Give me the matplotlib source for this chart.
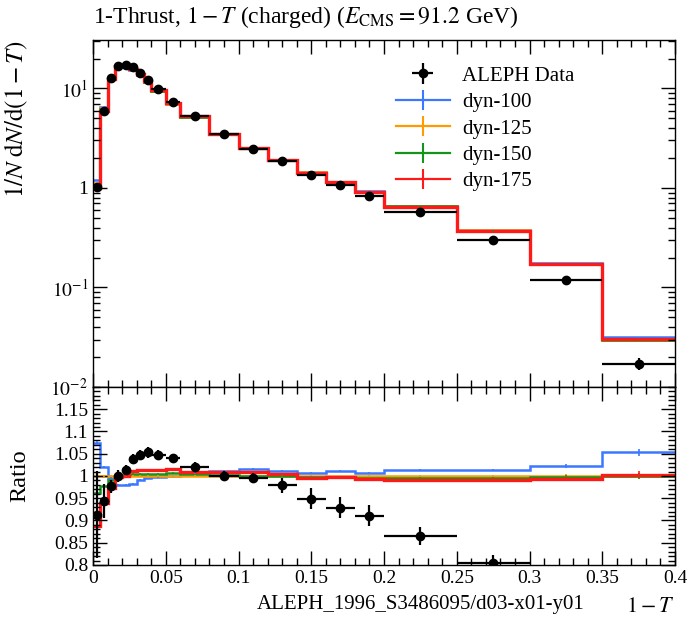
import numpy as np
import matplotlib
matplotlib.use("Agg")
import matplotlib.pyplot as plt
from matplotlib.lines import Line2D
from matplotlib.ticker import FixedLocator, MultipleLocator, LogLocator, FuncFormatter, NullFormatter

plt.rcParams['font.family'] = ['Liberation Serif', 'DejaVu Serif']
plt.rcParams['mathtext.fontset'] = 'stix'

# 1-T bins (ALEPH 1996, charged thrust at 91.2 GeV)
bin_edges = [0.0, 0.005, 0.01, 0.015, 0.02, 0.025, 0.03, 0.035, 0.04, 0.05, 0.06,
             0.08, 0.10, 0.12, 0.14, 0.16, 0.18, 0.20, 0.25, 0.30, 0.35, 0.40]

aleph_data = [1.02, 6.0, 12.6, 17.0, 17.3, 16.3, 14.3, 12.3, 9.9, 7.3, 5.3,
              3.45, 2.49, 1.86, 1.36, 1.06, 0.836, 0.567, 0.302, 0.12, 0.0171]
aleph_err = [0.11, 0.24, 0.19, 0.24, 0.20, 0.19, 0.16, 0.14, 0.095, 0.07, 0.057,
             0.035, 0.028, 0.032, 0.034, 0.027, 0.022, 0.013, 0.0068, 0.006, 0.0023]

dyn_100 = [1.199, 6.49, 12.84, 16.66, 16.72, 15.43, 13.54, 11.62, 9.42, 7.02, 5.22,
           3.49, 2.54, 1.92, 1.442, 1.154, 0.925, 0.664, 0.380, 0.177, 0.0316]
dyn_125 = [1.117, 6.36, 12.9, 17.0, 17.06, 15.7, 13.65, 11.68, 9.45, 7.02, 5.19,
           3.45, 2.50, 1.90, 1.433, 1.141, 0.918, 0.655, 0.375, 0.173, 0.0300]
dyn_150 = [1.075, 6.21, 12.78, 17.0, 17.11, 15.78, 13.72, 11.74, 9.50, 7.07, 5.21,
           3.46, 2.50, 1.90, 1.430, 1.139, 0.913, 0.652, 0.373, 0.1727, 0.0300]
dyn_175 = [0.991, 5.97, 12.54, 16.95, 17.06, 15.86, 13.84, 11.84, 9.58, 7.13, 5.24,
           3.48, 2.52, 1.91, 1.426, 1.138, 0.911, 0.649, 0.372, 0.172, 0.0301]
mc_stat_relerr = [0.004, 0.002, 0.0015, 0.0015, 0.0015, 0.0015, 0.0015, 0.0015, 0.0015, 0.0015, 0.0015,
                  0.0015, 0.0015, 0.002, 0.002, 0.002, 0.002, 0.002, 0.003, 0.004, 0.007]

mc_series = [dyn_100, dyn_125, dyn_150, dyn_175]
mc_labels = ['dyn-100', 'dyn-125', 'dyn-150', 'dyn-175']
mc_colors = ['#3b78ff', '#ff9a00', '#13951b', '#ff1a1a']
mc_widths = [1.8, 1.8, 1.8, 2.4]

edges = np.array(bin_edges)
centers = 0.5 * (edges[1:] + edges[:-1])
halfw = 0.5 * (edges[1:] - edges[:-1])
data = np.array(aleph_data)
derr = np.array(aleph_err)
ref = np.array(dyn_125)
relerr = np.array(mc_stat_relerr)

fig = plt.figure(figsize=(6.89, 6.18), dpi=100)
ax = fig.add_axes([0.135, 0.3738, 0.8447, 0.5615])
rax = fig.add_axes([0.135, 0.0858, 0.8447, 0.2880], sharex=ax)

# main panel
for vals, col, lw in zip(mc_series, mc_colors, mc_widths):
    v = np.array(vals)
    ax.stairs(v, edges, baseline=None, color=col, lw=lw)
    ax.errorbar(centers, v, yerr=v * relerr, fmt='none', ecolor=col, elinewidth=1.2)
dat = ax.errorbar(centers, data, xerr=halfw, yerr=derr, fmt='o', color='black',
                  ms=6, elinewidth=1.6, capsize=0, label='ALEPH Data', zorder=5)

ax.set_yscale('log')
ax.set_xlim(0, 0.4)
ax.set_ylim(0.01, 30.7)
ax.yaxis.set_major_locator(LogLocator(base=10, numticks=10))
ax.yaxis.set_minor_locator(LogLocator(base=10, subs=np.arange(2, 10), numticks=20))
ax.yaxis.set_major_formatter(FuncFormatter(
    lambda v, p: '1' if round(np.log10(v)) == 0 else r'$10^{%d}$' % round(np.log10(v))))
ax.yaxis.set_minor_formatter(NullFormatter())
ax.set_ylabel(r'$1/N\;\mathrm{d}N/\mathrm{d}(1-T)$', fontsize=18, loc='top')
ax.yaxis.set_label_coords(-0.108, 1.0)

handles = [dat] + [Line2D([], [], color=c, lw=1.6, marker='|', ms=14, mew=1.5)
                   for c in mc_colors]
ax.legend(handles, ['ALEPH Data'] + mc_labels, loc='upper left', bbox_to_anchor=(0.52, 0.925),
          frameon=False, fontsize=15, handlelength=2.6, labelspacing=0.33,
          borderpad=0, borderaxespad=0, handletextpad=0.6)

# ratio panel (relative to dyn-125)
for vals, col, lw in zip(mc_series, mc_colors, mc_widths):
    v = np.array(vals)
    rax.stairs(v / ref, edges, baseline=None, color=col, lw=lw)
    rax.errorbar(centers, v / ref, yerr=v * relerr / ref, fmt='none', ecolor=col, elinewidth=1.2)
rax.errorbar(centers, data / ref, xerr=halfw, yerr=derr / ref, fmt='o', color='black',
             ms=6, elinewidth=1.6, capsize=0, zorder=5)
rax.set_ylim(0.8, 1.2)
rax.yaxis.set_major_locator(FixedLocator([0.8, 0.85, 0.9, 0.95, 1.0, 1.05, 1.1, 1.15]))
rax.yaxis.set_major_formatter(FuncFormatter(lambda v, p: '%g' % round(v, 2)))
rax.yaxis.set_minor_locator(MultipleLocator(0.01))
rax.set_ylabel('Ratio', fontsize=17.5)
rax.yaxis.set_label_coords(-0.108, 0.5)
rax.set_xlabel(r'$1-T$', fontsize=16, loc='right', labelpad=8)

for a in (ax, rax):
    a.xaxis.set_major_locator(MultipleLocator(0.05))
    a.xaxis.set_minor_locator(MultipleLocator(0.01))
    a.tick_params(which='both', direction='in', top=True, right=True, labelsize=14)
    a.tick_params(which='major', length=10, width=1.0)
    a.tick_params(which='minor', length=5, width=1.0)
    for s in a.spines.values():
        s.set_linewidth(1.0)
ax.tick_params(labelbottom=False)
rax.xaxis.set_major_formatter(FuncFormatter(lambda v, p: '%g' % round(v, 2)))

fig.text(0.135, 1 - 17 / 618, r'1-Thrust, $1-T$ (charged) ($E_{\mathrm{CMS}} = 91.2$ GeV)',
         fontsize=17, ha='left', va='center')
fig.text(585 / 689, 1 - 605 / 618, 'ALEPH_1996_S3486095/d03-x01-y01',
         fontsize=15, ha='right', va='center')

fig.savefig('out.png', dpi=100)
